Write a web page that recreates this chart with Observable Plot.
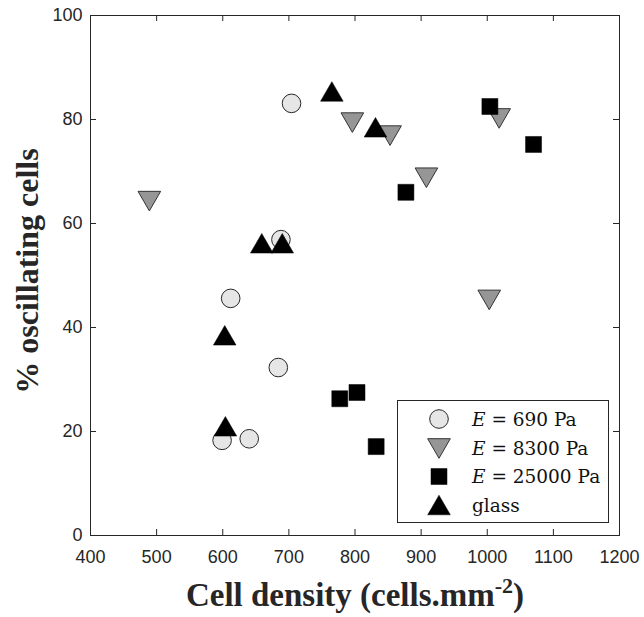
<!DOCTYPE html>
<html><head><meta charset="utf-8">
<script src="https://cdn.jsdelivr.net/npm/d3@7"></script>
<script src="https://cdn.jsdelivr.net/npm/@observablehq/plot@0.6"></script>
<style>
body{margin:0;background:#fff}
#wrap{position:relative;width:644px;height:617px}
#legend{position:absolute;left:397px;top:400px}
</style>
</head><body><div id="wrap"></div>
<script>
// ---- data ----
const xTicks = [400, 500, 600, 700, 800, 900, 1000, 1100, 1200];
const yTicks = [0, 20, 40, 60, 80, 100];
const xTitle = "Cell density (cells.mm";
const xTitleSup = "-2";
const yTitle = "% oscillating cells";
const seriesLabels = ["690 Pa", "8300 Pa", "25000 Pa", "glass"];

const e690X = [704, 688, 612, 684, 599, 640];
const e690Y = [83.1, 56.9, 45.6, 32.3, 18.3, 18.6];
const e8300X = [489, 796, 853, 908, 1018, 1003];
const e8300Y = [64.3, 79.4, 76.9, 68.8, 80.2, 45.3];
const e25000X = [1004, 1070, 877, 777, 803, 832];
const e25000Y = [82.5, 75.2, 66.0, 26.3, 27.5, 17.1];
const glassX = [765, 831, 659, 690, 603, 604];
const glassY = [85.4, 78.5, 56.2, 56.2, 38.5, 21.0];

const rows = (xs, ys) => xs.map((x, i) => ({x, y: ys[i]}));
const d690 = rows(e690X, e690Y), d8300 = rows(e8300X, e8300Y),
      d25000 = rows(e25000X, e25000Y), dGlass = rows(glassX, glassY);

const ink = "#262626";
const triR = 8.4, triShift = 3.27;
const fmt = d => String(d);

const chart = Plot.plot({
  width: 644, height: 617,
  marginLeft: 90, marginRight: 25, marginTop: 15, marginBottom: 82,
  x: {domain: [400, 1200]},
  y: {domain: [0, 100]},
  style: {fontFamily: "'Liberation Sans', Arial, sans-serif", fontSize: "18px", color: ink, background: "white"},
  marks: [
    Plot.axisX(xTicks, {anchor: "bottom", tickSize: 0, tickPadding: 15, label: null, fontSize: 18, tickFormat: fmt}),
    Plot.axisY(yTicks, {anchor: "left", tickSize: 0, tickPadding: 8, label: null, fontSize: 18, tickFormat: fmt}),
    Plot.tickX(xTicks, {x: d => d, insetTop: 514, stroke: ink}),
    Plot.tickX(xTicks, {x: d => d, insetBottom: 514, stroke: ink}),
    Plot.tickY(yTicks, {y: d => d, insetRight: 523, stroke: ink}),
    Plot.tickY(yTicks, {y: d => d, insetLeft: 523, stroke: ink}),
    Plot.frame({stroke: ink, strokeWidth: 1}),
    Plot.dot(d690, {x: "x", y: "y", symbol: "circle", r: 9.3, fill: "#e6e6e6", stroke: ink, strokeWidth: 1}),
    Plot.dot(d8300, {x: "x", y: "y", symbol: "triangle", rotate: 180, r: triR, dy: -triShift, fill: "#969696", stroke: "#333", strokeWidth: 1}),
    Plot.dot(d25000, {x: "x", y: "y", symbol: "square", r: 9.03, fill: "#000", stroke: "#000", strokeWidth: 0.5}),
    Plot.dot(dGlass, {x: "x", y: "y", symbol: "triangle", r: triR, dy: triShift, fill: "#000", stroke: "#000", strokeWidth: 0.5}),
    Plot.text([xTitle], {text: d => d, frameAnchor: "bottom", textAnchor: "middle", lineAnchor: "bottom", dy: 70, fontSize: 33, fontWeight: "bold", fontFamily: "'Liberation Serif', serif", fill: ink, className: "xtitle"}),
    Plot.text([yTitle], {text: d => d, frameAnchor: "left", textAnchor: "middle", lineAnchor: "middle", rotate: -90, dx: -63, dy: -4.5, fontSize: 32, fontWeight: "bold", fontFamily: "'Liberation Serif', serif", fill: ink})
  ]
});

const wrap = document.getElementById("wrap");
wrap.appendChild(chart);

// superscript in x title
const xt = d3.select(chart).select(".xtitle text");
xt.text(null);
xt.append("tspan").text(xTitle);
xt.append("tspan").attr("dy", -13).attr("font-size", 22).text(xTitleSup);
xt.append("tspan").attr("dy", 13).text(")");

// legend
const lw = 212, lh = 123;
const leg = d3.select(wrap).append("svg").attr("id", "legend").attr("width", lw).attr("height", lh)
  .style("font-family", "'DejaVu Serif', serif").style("font-size", "18.5px");
leg.append("rect").attr("x", 0.5).attr("y", 0.5).attr("width", lw - 1).attr("height", lh - 1)
  .attr("fill", "white").attr("stroke", ink);
const rowY = [19, 48.5, 76.5, 105];
const legSym = [
  {type: d3.symbolCircle, size: Math.PI * 9.3 * 9.3, fill: "#e6e6e6", stroke: ink, rot: 0, dy: 0},
  {type: d3.symbolTriangle, size: Math.PI * triR * triR, fill: "#969696", stroke: "#333", rot: 180, dy: -triShift},
  {type: d3.symbolSquare, size: Math.PI * 9.03 * 9.03, fill: "#000", stroke: "#000", rot: 0, dy: 0},
  {type: d3.symbolTriangle, size: Math.PI * triR * triR, fill: "#000", stroke: "#000", rot: 0, dy: triShift}
];
seriesLabels.forEach((lab, i) => {
  const s = legSym[i];
  leg.append("path").attr("d", d3.symbol(s.type, s.size)())
    .attr("transform", `translate(42,${rowY[i] + s.dy}) rotate(${s.rot})`)
    .attr("fill", s.fill).attr("stroke", s.stroke).attr("stroke-width", i === 0 || i === 1 ? 1 : 0.5);
  const t = leg.append("text").attr("x", 75).attr("y", rowY[i] + 6.5).attr("fill", "#111");
  if (i < 3) {
    t.append("tspan").attr("font-style", "italic").text("E");
    t.append("tspan").text(" = " + lab);
  } else {
    t.text(lab);
  }
});
</script>
</body></html>
